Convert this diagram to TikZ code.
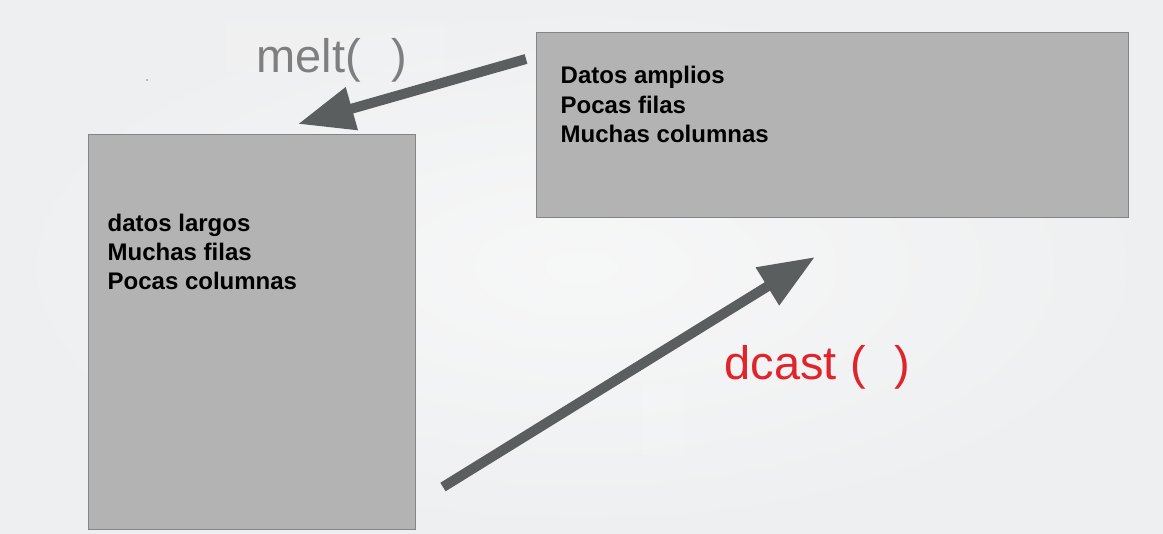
\documentclass[tikz,border=0pt]{standalone}
\usepackage{fontspec}
\setmainfont{Liberation Sans}
\usetikzlibrary{arrows.meta}
\definecolor{bgc}{HTML}{EEEFF0}
\definecolor{boxfill}{HTML}{B3B3B3}
\definecolor{boxline}{HTML}{858585}
\definecolor{arrowc}{HTML}{5A5E5E}
\definecolor{meltc}{HTML}{7F7F7F}
\definecolor{dcastc}{HTML}{E0242C}
\tikzset{
  databox/.style={draw=boxline, line width=0.8pt, fill=boxfill},
  boxtext/.style={anchor=base west, inner sep=0pt, font=\fontsize{24}{29}\selectfont\bfseries, text=black},
  funtext/.style={anchor=base west, inner sep=0pt, font=\fontsize{47}{56}\selectfont},
  bigarrow/.style={draw=arrowc, line width=10pt, -{Triangle[length=56pt, width=42pt]}, fill=arrowc}
}
\begin{document}
\begin{tikzpicture}[x=1pt,y=-1pt]
\useasboundingbox (0,0) rectangle (1163,534);
\shade[inner color=white!50!bgc, outer color=bgc] (0,0) rectangle (1163,534);
% faint patches
\fill[white, opacity=0.12] (226,22) rectangle (445,72);
\fill[white, opacity=0.12] (642,385) rectangle (685,455);
\fill[black] (147,80) circle (0.7pt);
% boxes
\node[databox, minimum width=327pt, minimum height=395pt, anchor=north west, inner sep=0pt] (long) at (88,134) {};
\node[databox, minimum width=592pt, minimum height=185pt, anchor=north west, inner sep=0pt] (wide) at (536,32) {};
% box texts
\node[boxtext] (l1) at (107.5,231.7) {datos largos};
\node[boxtext] (l2) at (107.5,260.5) {Muchas filas};
\node[boxtext] (l3) at (107.5,289.5) {Pocas columnas};
\node[boxtext] (w1) at (560.5,84) {Datos amplios};
\node[boxtext] (w2) at (560.5,113.5) {Pocas filas};
\node[boxtext] (w3) at (560.5,142.5) {Muchas columnas};
% function labels
\node[funtext, text=meltc] (melt) at (256.3,72.3) {melt(\hspace{31pt})};
\node[funtext, text=dcastc] (dcast) at (724.5,380) {dcast (\hspace{29pt})};
% arrows
\coordinate (mstart) at (526,59);
\coordinate (mtip) at (298,124);
\coordinate (dstart) at (443,487);
\coordinate (dtip) at (815,257);
\draw[bigarrow] (mstart) -- (mtip);
\draw[bigarrow] (dstart) -- (dtip);
\end{tikzpicture}
\end{document}
